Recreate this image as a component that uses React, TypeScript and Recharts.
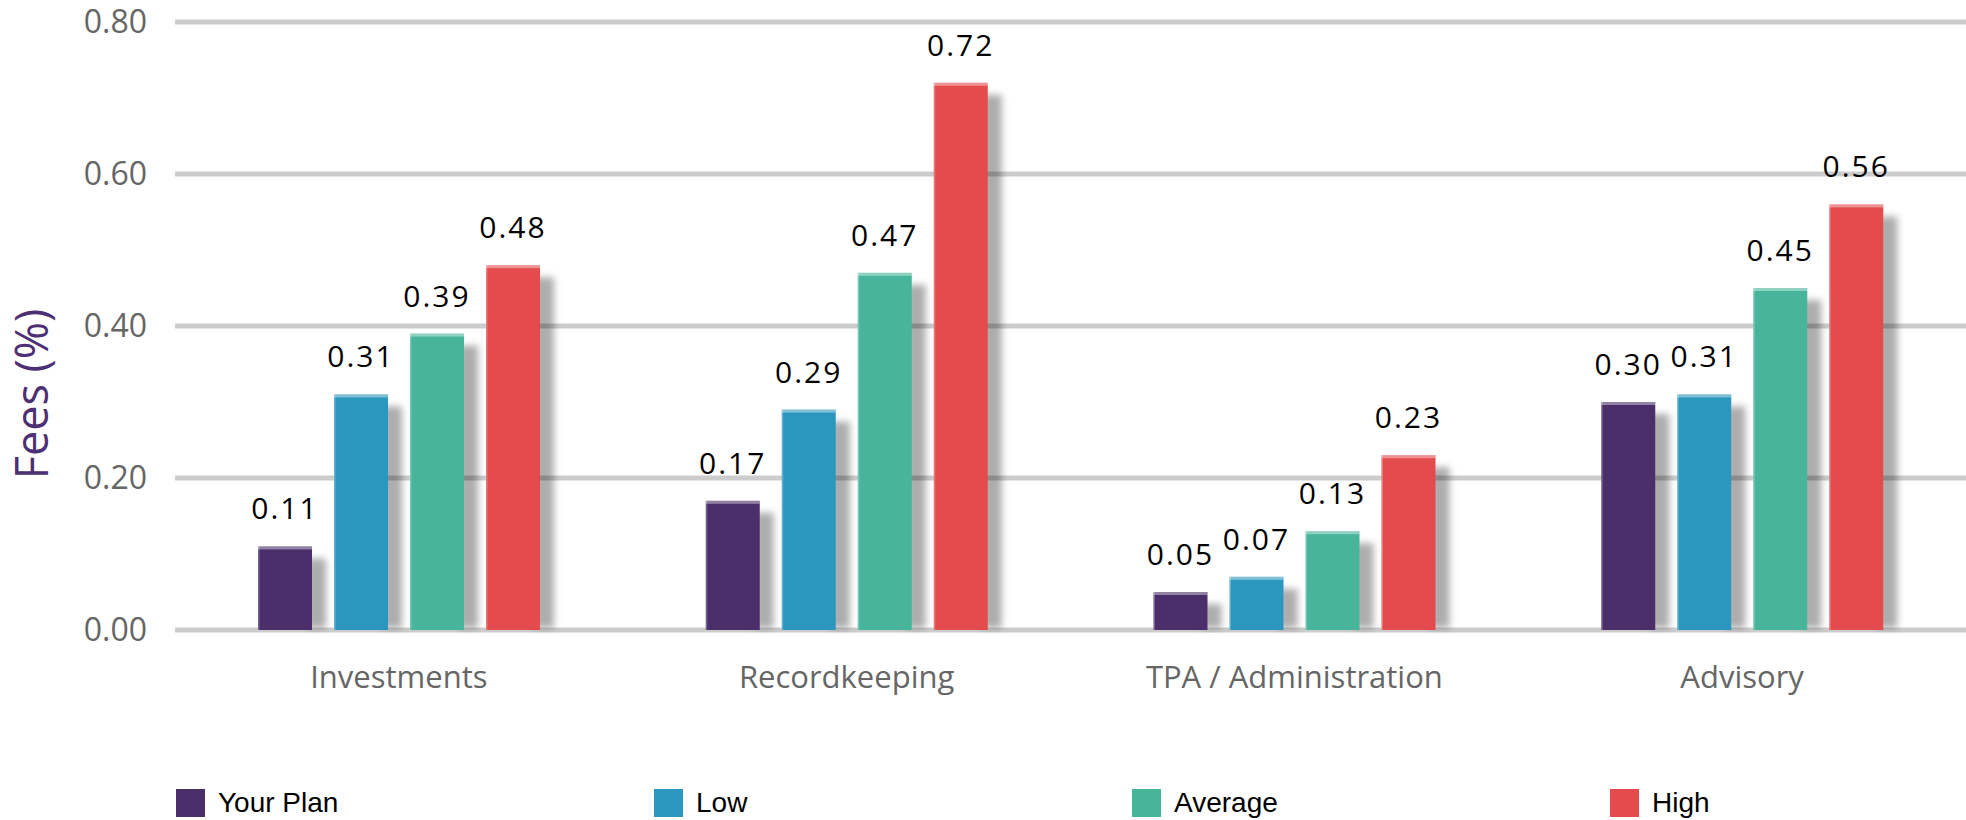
import React from "react";
import {
  BarChart,
  Bar,
  XAxis,
  YAxis,
  CartesianGrid,
  Legend,
  LabelList,
} from "recharts";

const categories = ["Investments", "Recordkeeping", "TPA / Administration", "Advisory"];
const yourPlan = [0.11, 0.17, 0.05, 0.3];
const low = [0.31, 0.29, 0.07, 0.31];
const average = [0.39, 0.47, 0.13, 0.45];
const high = [0.48, 0.72, 0.23, 0.56];
const yTicks = [0, 0.2, 0.4, 0.6, 0.8];

const series = [
  { key: "yourPlan", name: "Your Plan", color: "#4b2f6b" },
  { key: "low", name: "Low", color: "#2b97bf" },
  { key: "average", name: "Average", color: "#46b59a" },
  { key: "high", name: "High", color: "#e34b4c" },
];

const data = categories.map((name, i) => ({
  name,
  yourPlan: yourPlan[i],
  low: low[i],
  average: average[i],
  high: high[i],
}));

// bar with a soft shadow on its right and a lighter strip along the top
const ShadowBar = (props: any) => {
  const { x, y, width, height, fill } = props;
  if (!height || height <= 0) return null;
  const sy = y + 12;
  return (
    <g>
      {height > 12 && (
        <rect
          x={x + width - 6}
          y={sy}
          width={20}
          height={y + height - sy - 2}
          fill="#000"
          fillOpacity={0.32}
          filter="url(#shadowBlur)"
        />
      )}
      <rect x={x} y={y} width={width} height={height} fill={fill} />
      <rect x={x} y={y} width={width} height={3} fill="#fff" fillOpacity={0.4} />
      <rect x={x} y={y} width={1.5} height={height} fill="#fff" fillOpacity={0.25} />
    </g>
  );
};

const renderLegend = () => (
  <div style={{ display: "flex", height: 34, alignItems: "center", paddingLeft: 176, overflow: "visible" }}>
    {series.map((s) => (
      <div key={s.key} style={{ width: 478, flexShrink: 0, display: "flex", alignItems: "center" }}>
        <span style={{ width: 29, height: 28, background: s.color, display: "inline-block", marginRight: 13 }} />
        <span style={{ fontFamily: "'Liberation Sans', Arial, sans-serif", fontSize: 28, color: "#000" }}>
          {s.name}
        </span>
      </div>
    ))}
  </div>
);

const YLabel = (props: any) => {
  const { viewBox } = props;
  const cx = viewBox.x + 30;
  const cy = viewBox.y + viewBox.height / 2 + 68;
  return (
    <text
      x={cx}
      y={cy}
      transform={`rotate(-90, ${cx}, ${cy})`}
      textAnchor="middle"
      dominantBaseline="central"
      fill="#4d2f73"
      fontSize={45}
      fontFamily="'Open Sans', sans-serif"
    >
      Fees (%)
    </text>
  );
};

export default function App() {
  return (
    <div style={{ width: 1966, height: 820, background: "#fff", overflow: "hidden" }}>
      <style>{`body{margin:0;}`}</style>
      <BarChart
        width={1966}
        height={820}
        data={data}
        margin={{ top: 22, right: 0, left: 0, bottom: 0 }}
        barCategoryGap={83}
        barGap={22}
      >
        <defs>
          <filter id="shadowBlur" x="-50%" y="-20%" width="200%" height="140%">
            <feGaussianBlur stdDeviation="3.5" />
          </filter>
        </defs>
        <CartesianGrid vertical={false} stroke="#cccccc" strokeWidth={5} />
        <XAxis
          dataKey="name"
          axisLine={false}
          tickLine={false}
          tickSize={0}
          tickMargin={36}
          height={156}
          interval={0}
          tick={{ fill: "#666", fontSize: 31, fontFamily: "'Open Sans', sans-serif" }}
        />
        <YAxis
          domain={[0, 0.8]}
          ticks={yTicks}
          width={175}
          axisLine={false}
          tickLine={false}
          tickSize={0}
          tickMargin={28}
          tickFormatter={(v: number) => v.toFixed(2)}
          tick={{ fill: "#666", fontSize: 32, fontFamily: "'Open Sans', sans-serif" }}
          label={<YLabel />}
        />
        <Legend verticalAlign="bottom" align="left" content={renderLegend} />
        {series.map((s) => (
          <Bar
            key={s.key}
            dataKey={s.key}
            name={s.name}
            fill={s.color}
            shape={ShadowBar}
            isAnimationActive={false}
          >
            <LabelList
              dataKey={s.key}
              position="top"
              offset={27}
              formatter={(v: any) => Number(v).toFixed(2)}
              fill="#000"
              fontSize={30}
              fontFamily="'Open Sans', sans-serif"
              style={{ letterSpacing: 2 }}
            />
          </Bar>
        ))}
      </BarChart>
    </div>
  );
}
